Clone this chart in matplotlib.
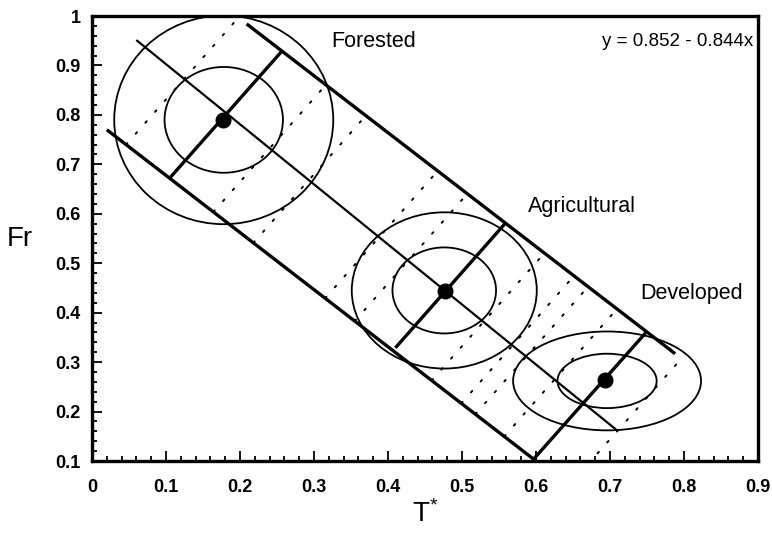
import numpy as np
import matplotlib
matplotlib.use("Agg")
import matplotlib.pyplot as plt
from matplotlib.patches import Ellipse
from matplotlib.ticker import MultipleLocator, FormatStrFormatter

plt.rcParams['font.family'] = ['Liberation Sans', 'DejaVu Sans']

# group means (T*, Fr)
groups = ['Forested', 'Agricultural', 'Developed']
mean_t = [0.177, 0.477, 0.693]
mean_fr = [0.790, 0.443, 0.264]

# confidence ellipses: centre, half width, half height (inner / outer)
ell_t = [0.178, 0.476, 0.696]
ell_fr = [0.790, 0.445, 0.262]
inner_w = [0.080, 0.070, 0.067]
inner_h = [0.107, 0.087, 0.055]
outer_w = [0.148, 0.125, 0.127]
outer_h = [0.211, 0.158, 0.100]

# band edges and the axis line
upper_t = [0.209, 0.788]
upper_fr = [0.984, 0.317]
lower_t = [0.020, 0.600]
lower_fr = [0.770, 0.100]
axis_t = [0.061, 0.707]
axis_fr = [0.950, 0.165]

# cross sections through each group
cross_t0 = [0.106, 0.410, 0.598]
cross_fr0 = [0.674, 0.329, 0.106]
cross_t1 = [0.256, 0.558, 0.748]
cross_fr1 = [0.928, 0.580, 0.359]

# dotted lines, given by where they meet the lower band edge
dot_t = [0.046, 0.164, 0.218, 0.315, 0.355, 0.459, 0.499, 0.518, 0.557, 0.644]

equation = 'y = 0.852 - 0.844x'
label_t = [0.381, 0.662, 0.810]
label_fr = [0.949, 0.614, 0.439]

fig = plt.figure(figsize=(7.72, 5.36), dpi=100)
ax = fig.add_axes([0.1192, 0.1399, 0.8627, 0.8302])

# dotted lines across the band (parallel to the cross sections)
dx = np.mean(np.subtract(cross_t1, cross_t0))
dy = np.mean(np.subtract(cross_fr1, cross_fr0))
s_low = (lower_fr[1] - lower_fr[0]) / (lower_t[1] - lower_t[0])
s_up = (upper_fr[1] - upper_fr[0]) / (upper_t[1] - upper_t[0])
for x0 in dot_t:
    y0 = lower_fr[0] + s_low * (x0 - lower_t[0])
    yu = upper_fr[0] + s_up * (x0 - upper_t[0])
    t = (yu - y0) / (dy - s_up * dx)
    ax.plot([x0, x0 + t * dx], [y0, y0 + t * dy], color='black', lw=1.4,
            linestyle=(0, (1, 6.5)), dash_capstyle='round')

# ellipses
for i in range(len(groups)):
    for w, h in [(inner_w[i], inner_h[i]), (outer_w[i], outer_h[i])]:
        ax.add_patch(Ellipse((ell_t[i], ell_fr[i]), 2 * w, 2 * h, fill=False,
                             edgecolor='black', lw=1.3))

# band
ax.plot(upper_t, upper_fr, color='black', lw=2.4, solid_capstyle='butt')
ax.plot(lower_t, lower_fr, color='black', lw=2.4, solid_capstyle='butt')
ax.plot(axis_t, axis_fr, color='black', lw=1.6)
for i in range(len(groups)):
    ax.plot([cross_t0[i], cross_t1[i]], [cross_fr0[i], cross_fr1[i]],
            color='black', lw=2.4, solid_capstyle='butt')

# means
ax.plot(mean_t, mean_fr, 'o', color='black', markersize=10.5, zorder=5)

# labels
for i, g in enumerate(groups):
    ax.text(label_t[i], label_fr[i], g, ha='center', va='center', fontsize=15.5)
ax.text(0.8935, 0.949, equation, ha='right', va='center', fontsize=13.5)

ax.set_xlim(0, 0.9)
ax.set_ylim(0.1, 1.0)
ax.xaxis.set_major_locator(MultipleLocator(0.1))
ax.xaxis.set_minor_locator(MultipleLocator(0.02))
ax.yaxis.set_major_locator(MultipleLocator(0.1))
ax.yaxis.set_minor_locator(MultipleLocator(0.02))
ax.xaxis.set_major_formatter(FormatStrFormatter('%g'))
ax.yaxis.set_major_formatter(FormatStrFormatter('%g'))
ax.tick_params(which='both', direction='in', top=False, right=False,
               width=1.3, labelsize=13)
ax.tick_params(which='major', length=7)
ax.tick_params(which='minor', length=3.5)
ax.tick_params(axis='x', which='major', pad=13)
ax.tick_params(axis='y', which='major', pad=8)
for lab in ax.get_xticklabels() + ax.get_yticklabels():
    lab.set_fontweight('bold')
for sp in ax.spines.values():
    sp.set_linewidth(2.4)

ax.set_xlabel(r'$\mathregular{T^{*}}$', fontsize=20, labelpad=3)
ax.set_ylabel('Fr', fontsize=20, rotation=0, labelpad=26, va='center')

fig.savefig('out.png', dpi=100)
